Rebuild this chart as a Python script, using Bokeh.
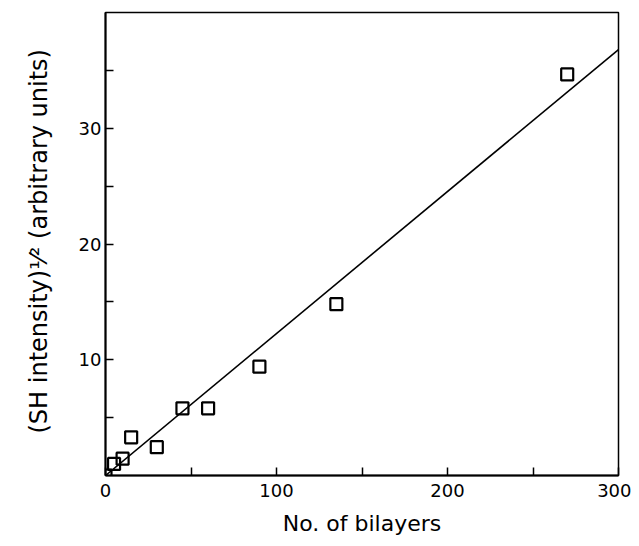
from bokeh.plotting import figure
from bokeh.models import Range1d, FixedTicker, Title, ColumnDataSource
from bokeh.embed import file_html
from bokeh.resources import INLINE

# Data
bilayers = [0, 5, 10, 15, 30, 45, 60, 90, 135, 270]
sh_sqrt = [0.0, 1.0, 1.45, 3.3, 2.45, 5.8, 5.8, 9.4, 14.8, 34.65]

fit_x = [0, 300]
fit_y = [0, 36.8]

x_ticks = [0, 100, 200, 300]
x_minor = [50, 150, 250]
y_ticks = [10, 20, 30]
y_minor = [5, 15, 25, 35]

x_label = "No. of bilayers"
y_label = "(SH intensity)\u00b9\u2044\u00b2\u00a0(arbitrary units)"

FONT = "DejaVu Sans"

p = figure(width=631, height=538, output_backend="svg", toolbar_location=None,
           x_range=Range1d(0, 300), y_range=Range1d(0, 40),
           min_border_left=105, min_border_right=13, min_border_top=12, min_border_bottom=61)
p.grid.visible = False
p.background_fill_color = "white"
p.border_fill_color = "white"
p.outline_line_color = "black"
p.outline_line_width = 1.5

src = ColumnDataSource(dict(x=bilayers, y=sh_sqrt))
p.line(fit_x, fit_y, line_color="black", line_width=1.6)
p.scatter("x", "y", source=src, marker="square", size=12, fill_color=None,
          line_color="black", line_width=2.2)

for ax in (p.xaxis[0], p.yaxis[0]):
    ax.axis_line_width = 2
    ax.axis_line_color = "black"
    ax.major_tick_in = 8
    ax.major_tick_out = 0
    ax.minor_tick_in = 8
    ax.minor_tick_out = 0
    ax.major_tick_line_width = 1.5
    ax.minor_tick_line_width = 1.5
    ax.major_label_text_font = FONT
    ax.major_label_text_font_size = "18px"
    ax.major_label_text_color = "black"

p.xaxis.ticker = FixedTicker(ticks=x_ticks, minor_ticks=x_minor)
p.yaxis.ticker = FixedTicker(ticks=y_ticks, minor_ticks=y_minor)
p.xaxis.major_label_standoff = 8
p.yaxis.major_label_standoff = 4

p.xaxis.axis_label = x_label
p.xaxis.axis_label_text_font = FONT
p.xaxis.axis_label_text_font_size = "22px"
p.xaxis.axis_label_text_font_style = "normal"
p.xaxis.axis_label_text_color = "black"
p.xaxis.axis_label_standoff = 11

ytitle = Title(text=y_label, align="left", offset=42, standoff=45,
               text_font=FONT, text_font_size="24px", text_font_style="normal",
               text_color="black")
p.add_layout(ytitle, "left")

open("out.html", "w").write(file_html(p, INLINE))
